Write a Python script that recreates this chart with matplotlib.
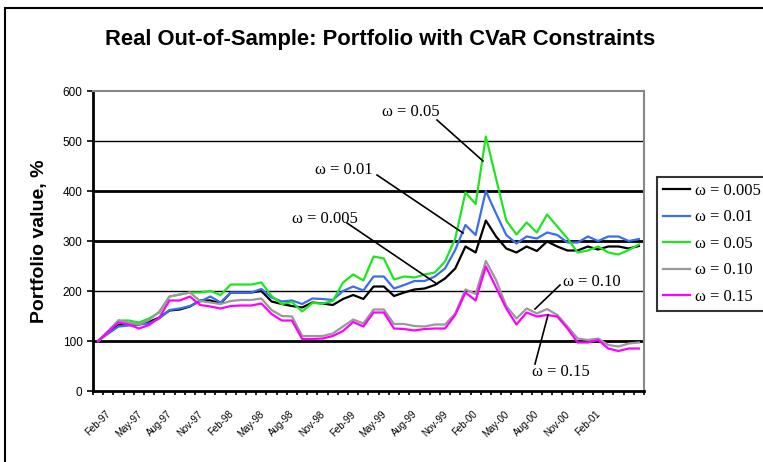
import numpy as np
import matplotlib
matplotlib.use("Agg")
import matplotlib.pyplot as plt
from matplotlib.patches import Rectangle

# monthly values Feb-97 .. Jul-01, portfolio value in %
w0005 = [100, 118, 132, 132, 133, 138, 147, 161, 163, 169, 181, 181, 175, 197, 197, 197, 200, 179,
         174, 170, 167, 177, 175, 172, 184, 192, 184, 209, 209, 190, 197, 203, 205, 212, 225, 245,
         289, 277, 341, 309, 285, 277, 289, 280, 299, 289, 281, 281, 289, 283, 289, 289, 285, 290]
w001 = [100, 115, 129, 131, 133, 135, 145, 162, 165, 170, 179, 189, 177, 197, 197, 197, 204, 187,
        179, 181, 174, 185, 184, 182, 200, 209, 201, 229, 229, 205, 212, 220, 220, 229, 245, 282,
        332, 312, 400, 355, 312, 295, 309, 305, 317, 312, 297, 297, 309, 300, 309, 309, 300, 304]
w005 = [100, 120, 141, 141, 137, 145, 157, 189, 193, 197, 197, 200, 192, 213, 213, 213, 217, 190,
        174, 178, 159, 176, 175, 180, 217, 233, 221, 269, 265, 223, 229, 227, 233, 237, 259, 305,
        397, 374, 509, 425, 341, 313, 337, 317, 353, 329, 305, 277, 281, 289, 277, 273, 282, 293]
w010 = [100, 120, 141, 137, 133, 142, 159, 189, 193, 197, 180, 177, 174, 180, 182, 182, 185, 162,
        150, 149, 110, 110, 110, 115, 129, 143, 135, 163, 163, 134, 134, 130, 129, 133, 133, 155,
        203, 194, 260, 222, 170, 145, 165, 155, 164, 152, 129, 105, 102, 105, 92, 89, 95, 97]
w015 = [100, 119, 137, 133, 125, 132, 147, 181, 181, 189, 172, 169, 165, 170, 171, 171, 175, 154,
        141, 141, 104, 104, 105, 110, 120, 138, 129, 157, 157, 125, 124, 121, 124, 125, 125, 152,
        197, 181, 249, 207, 165, 133, 157, 149, 152, 149, 125, 97, 97, 102, 85, 80, 85, 85]

tick_labels = ["Feb-97", "May-97", "Aug-97", "Nov-97", "Feb-98", "May-98", "Aug-98", "Nov-98",
               "Feb-99", "May-99", "Aug-99", "Nov-99", "Feb-00", "May-00", "Aug-00", "Nov-00",
               "Feb-01"]
names = ["\u03c9 = 0.005", "\u03c9 = 0.01", "\u03c9 = 0.05", "\u03c9 = 0.10", "\u03c9 = 0.15"]
colors = ["#000000", "#3a6ef0", "#1ee61e", "#999999", "#ff00ff"]
series = [w0005, w001, w005, w010, w015]

sans = "Liberation Sans"
serif = "Liberation Serif"

fig = plt.figure(figsize=(7.63, 4.62), dpi=100)
ax = fig.add_axes([93 / 763, 71 / 462, 551 / 763, 300 / 462])

x = np.arange(len(w0005))
for vals, c, nm in zip(series, colors, names):
    ax.plot(x, vals, color=c, lw=1.6, label=nm, zorder=3)

ax.set_xlim(-0.5, len(x) - 0.5)
ax.set_ylim(0, 600)
ax.set_yticks(range(0, 601, 100))
for v in range(100, 600, 100):
    ax.axhline(v, color="black", lw=2.0 if v in (100, 300, 400) else 1.0, zorder=1)

ax.set_xticks(np.arange(len(tick_labels)) * 3)
ax.set_xticklabels(tick_labels, rotation=45, ha="center", va="top",
                   fontsize=7, family=sans)
ax.set_xticks(np.arange(-0.5, len(x)), minor=True)
ax.tick_params(axis="x", which="major", length=0, pad=13)
ax.tick_params(axis="x", which="minor", length=3, width=1.2, direction="out")
ax.tick_params(axis="y", length=4, width=1.2, labelsize=8.5)
for lab in ax.get_yticklabels():
    lab.set_family(sans)

ax.spines["left"].set_linewidth(2)
ax.spines["bottom"].set_linewidth(2)
ax.spines["top"].set_color("#888888")
ax.spines["right"].set_color("#888888")
ax.spines["top"].set_linewidth(1.5)
ax.spines["right"].set_linewidth(1.5)

fig.text(40 / 763, 1 - 241 / 462, "Portfolio value, %", family=sans, fontweight="bold",
         fontsize=14, rotation=90, ha="center", va="center")
fig.text(380 / 763, 1 - 40 / 462, "Real Out-of-Sample: Portfolio with CVaR Constraints",
         family=sans, fontweight="bold", fontsize=15.8, ha="center", va="center")

# callout labels
def callout(txt, tx, ty, x0, y0, x1, y1, ha="left"):
    fig.text(tx / 763, 1 - ty / 462, txt, family=serif, fontsize=12, ha=ha, va="center")
    fig.add_artist(plt.Line2D([x0 / 763, x1 / 763], [1 - y0 / 462, 1 - y1 / 462],
                              color="black", lw=1.2))

callout(names[2], 382, 112, 437, 120, 483, 161)
callout(names[1], 315, 170, 377, 175, 463, 233)
callout(names[0], 292, 219, 347, 223, 437, 284)
callout(names[3], 563, 282, 560, 285, 535, 309)
callout(names[4], 532, 372, 535, 364, 548, 315)

leg = ax.legend(loc="upper left", bbox_to_anchor=(657 / 763, 1 - 177 / 462),
                bbox_transform=fig.transFigure, prop={"family": serif, "size": 12},
                frameon=True, fancybox=False, handlelength=1.6, handletextpad=0.35,
                labelspacing=0.63, borderpad=0.35, borderaxespad=0)
leg.get_frame().set_edgecolor("black")
leg.get_frame().set_linewidth(1.5)
for h in leg.get_lines():
    h.set_linewidth(1.6)

fig.add_artist(Rectangle((5 / 763, -0.2), 1.1, 1.2 - 8 / 462, transform=fig.transFigure,
                         fill=False, edgecolor="black", lw=1.5))

fig.savefig("out.png", dpi=100)
